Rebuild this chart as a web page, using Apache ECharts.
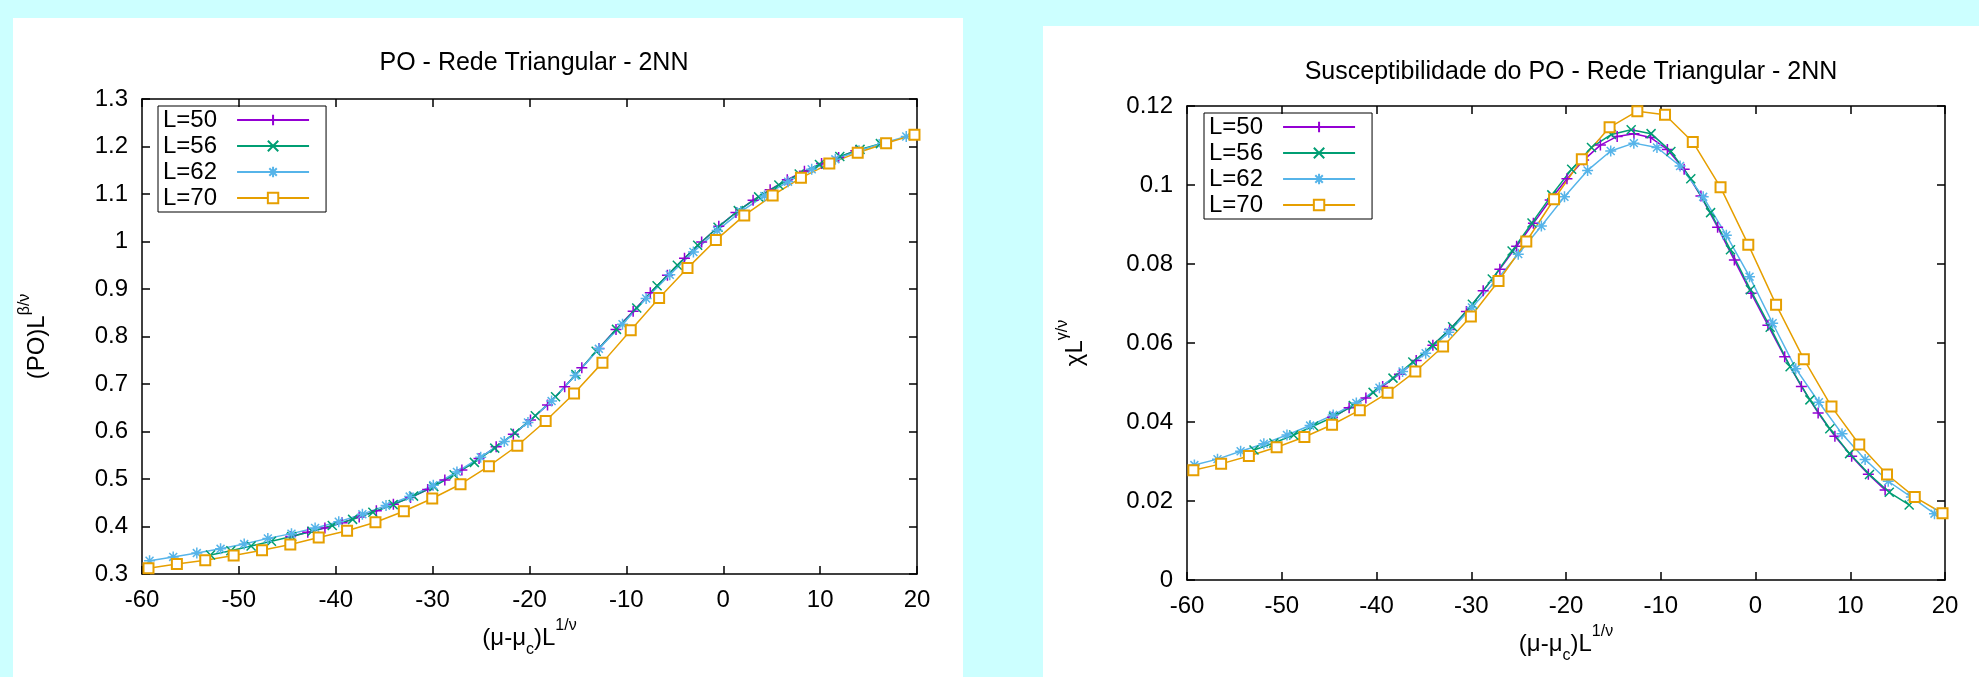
<!DOCTYPE html>
<html><head><meta charset="utf-8">
<script src="https://cdn.jsdelivr.net/npm/echarts@6/dist/echarts.min.js"></script>
<style>html,body{margin:0;padding:0;background:#ccffff}#c{width:1979px;height:677px}</style>
</head><body><div id="c"></div>
<script>
// ---- data ----
const LABELS = ['L=50', 'L=56', 'L=62', 'L=70'];
const X50 = [-44.65,-42.89,-41.12,-39.35,-37.58,-35.81,-34.05,-32.28,-30.51,-28.74,-26.98,-25.21,-23.44,-21.67,-19.90,-18.14,-16.37,-14.60,-12.83,-11.07,-9.30,-7.53,-5.76,-4.00,-2.23,-0.46,1.31,3.08,4.84,6.61,8.38,10.15,11.91,13.68];
const X56 = [-52.93,-50.83,-48.74,-46.64,-44.55,-42.45,-40.36,-38.26,-36.17,-34.07,-31.97,-29.88,-27.78,-25.69,-23.59,-21.50,-19.40,-17.31,-15.21,-13.12,-11.02,-8.93,-6.83,-4.74,-2.64,-0.54,1.55,3.65,5.74,7.84,9.93,12.03,14.12,16.22];
const X62 = [-59.22,-56.78,-54.34,-51.89,-49.45,-47.01,-44.57,-42.13,-39.69,-37.25,-34.81,-32.37,-29.93,-27.49,-25.04,-22.60,-20.16,-17.72,-15.28,-12.84,-10.40,-7.96,-5.52,-3.08,-0.63,1.81,4.25,6.69,9.13,11.57,14.01,16.45,18.89];
const X70 = [-59.33,-56.40,-53.47,-50.54,-47.61,-44.69,-41.76,-38.83,-35.90,-32.97,-30.04,-27.12,-24.19,-21.26,-18.33,-15.40,-12.47,-9.55,-6.62,-3.69,-0.76,2.17,5.10,8.02,10.95,13.88,16.81,19.74];

const PO50 = [0.379,0.388,0.397,0.408,0.420,0.433,0.447,0.461,0.478,0.498,0.519,0.543,0.568,0.594,0.624,0.656,0.694,0.734,0.775,0.815,0.853,0.892,0.929,0.965,0.999,1.032,1.061,1.087,1.109,1.130,1.148,1.164,1.177,1.191];
const PO56 = [0.340,0.349,0.359,0.369,0.379,0.390,0.402,0.415,0.430,0.446,0.464,0.484,0.509,0.535,0.565,0.597,0.633,0.673,0.720,0.769,0.815,0.860,0.907,0.950,0.992,1.030,1.065,1.094,1.119,1.142,1.162,1.179,1.194,1.206];
const PO62 = [0.328,0.336,0.344,0.353,0.363,0.375,0.385,0.397,0.410,0.426,0.444,0.463,0.487,0.515,0.546,0.579,0.619,0.664,0.718,0.774,0.826,0.880,0.930,0.978,1.023,1.063,1.096,1.126,1.152,1.173,1.191,1.207,1.221];
const PO70 = [0.312,0.321,0.329,0.339,0.350,0.362,0.377,0.391,0.409,0.432,0.459,0.489,0.527,0.570,0.622,0.680,0.745,0.813,0.881,0.944,1.003,1.055,1.097,1.134,1.164,1.187,1.207,1.225];

const CHI50 = [0.0412,0.0436,0.0461,0.0490,0.0521,0.0556,0.0594,0.0634,0.0680,0.0732,0.0787,0.0845,0.0903,0.0962,0.1016,0.1063,0.1101,0.1123,0.1130,0.1120,0.1090,0.1040,0.0972,0.0893,0.0810,0.0726,0.0645,0.0565,0.0490,0.0423,0.0364,0.0313,0.0268,0.0228];
const CHI56 = [0.0329,0.0347,0.0367,0.0390,0.0413,0.0442,0.0475,0.0511,0.0552,0.0594,0.0641,0.0698,0.0762,0.0833,0.0904,0.0975,0.1040,0.1095,0.1128,0.1140,0.1130,0.1085,0.1016,0.0930,0.0836,0.0735,0.0640,0.0540,0.0456,0.0383,0.0320,0.0267,0.0222,0.0190];
const CHI62 = [0.0291,0.0306,0.0326,0.0345,0.0367,0.0391,0.0418,0.0448,0.0487,0.0528,0.0574,0.0627,0.0690,0.0755,0.0825,0.0896,0.0970,0.1037,0.1086,0.1106,0.1095,0.1048,0.0970,0.0873,0.0768,0.0650,0.0535,0.0450,0.0370,0.0305,0.0250,0.0210,0.0168];
const CHI70 = [0.0278,0.0294,0.0314,0.0336,0.0362,0.0393,0.0430,0.0474,0.0528,0.0591,0.0667,0.0757,0.0857,0.0964,0.1065,0.1146,0.1187,0.1178,0.1109,0.0994,0.0849,0.0697,0.0559,0.0439,0.0343,0.0267,0.0210,0.0169];

const TITLE_LEFT = 'PO - Rede Triangular - 2NN';
const TITLE_RIGHT = 'Susceptibilidade do PO - Rede Triangular - 2NN';

// ---- styles ----
const FONT = '"Liberation Sans", Arial, sans-serif';
const XS = [X50, X56, X62, X70];
const POS = [PO50, PO56, PO62, PO70];
const CHIS = [CHI50, CHI56, CHI62, CHI70];
const SERIES_STYLE = [
  {color: '#9400d3', symbol: 'path://M0,-5L0,5M-5,0L5,0', size: 11},
  {color: '#009e73', symbol: 'path://M-5,-5L5,5M-5,5L5,-5', size: 9},
  {color: '#56b4e9', symbol: 'path://M0,-5L0,5M-5,0L5,0M-3.6,-3.6L3.6,3.6M-3.6,3.6L3.6,-3.6', size: 11},
  {color: '#e69f00', symbol: 'emptyRect', size: 10}
];

const axisLineStyle = {color: '#000', width: 1.5};
const labelStyle = {fontSize: 24, fontFamily: FONT, color: '#000'};
const richName = {
  a: {fontSize: 24, fontFamily: FONT, color: '#000', lineHeight: 40, verticalAlign: 'middle'},
  s: {fontSize: 16, fontFamily: FONT, color: '#000', lineHeight: 20, verticalAlign: 'bottom'},
  p: {fontSize: 16, fontFamily: FONT, color: '#000', lineHeight: 20, verticalAlign: 'top'}
};

function xAx(grid, pos, withLabel) {
  return {
    gridIndex: grid, type: 'value', min: -60, max: 20, interval: 10, position: pos,
    axisLine: {show: true, onZero: false, lineStyle: axisLineStyle},
    axisTick: {show: true, inside: true, length: 8, lineStyle: axisLineStyle},
    axisLabel: withLabel ? Object.assign({margin: 14}, labelStyle) : {show: false},
    splitLine: {show: false},
    name: withLabel ? '{a|(μ-μ}{s|c}{a|)L}{p|1/ν}' : '',
    nameLocation: 'middle', nameGap: 44,
    nameTextStyle: {rich: richName}
  };
}
function yAx(grid, pos, withLabel, min, max, interval, name, gap, dec) {
  return {
    gridIndex: grid, type: 'value', min: min, max: max, interval: interval, position: pos,
    axisLine: {show: true, onZero: false, lineStyle: axisLineStyle},
    axisTick: {show: true, inside: true, length: 8, lineStyle: axisLineStyle},
    axisLabel: withLabel ? Object.assign({margin: 14, formatter: v => String(+v.toFixed(dec))}, labelStyle) : {show: false},
    splitLine: {show: false},
    name: withLabel ? name : '',
    nameLocation: 'middle', nameGap: gap,
    nameTextStyle: {rich: richName}
  };
}

function legend(left, top) {
  return {
    data: LABELS, orient: 'vertical', left: left, top: top, align: 'right',
    itemWidth: 72, itemHeight: 13, itemGap: 0, padding: [1, 16, 1, 5],
    borderColor: '#000', borderWidth: 1, selectedMode: false,
    textStyle: {fontSize: 24, fontFamily: FONT, color: '#000', lineHeight: 26, padding: [0, 15, 0, 0]}
  };
}

const series = [];
[POS, CHIS].forEach((YS, g) => {
  LABELS.forEach((name, i) => {
    const st = SERIES_STYLE[i];
    series.push({
      type: 'line', name: name, xAxisIndex: g * 2, yAxisIndex: g * 2,
      data: XS[i].map((x, k) => [x, YS[i][k]]),
      symbol: st.symbol, symbolSize: st.size, showAllSymbol: true,
      itemStyle: {color: st.color, borderColor: st.color, borderWidth: 1.5},
      lineStyle: {color: st.color, width: 1.5},
      emphasis: {disabled: true}, animation: false, clip: true
    });
  });
});

const option = {
  backgroundColor: '#ccffff',
  animation: false,
  graphic: [
    {type: 'rect', z: -100, shape: {x: 13, y: 18, width: 950, height: 670}, style: {fill: '#fff'}},
    {type: 'rect', z: -100, shape: {x: 1043, y: 26, width: 940, height: 660}, style: {fill: '#fff'}}
  ],
  title: [
    {text: TITLE_LEFT, left: 529, top: 46, textAlign: 'center', textStyle: {fontSize: 25, fontWeight: 'normal', fontFamily: FONT, color: '#000'}},
    {text: TITLE_RIGHT, left: 1566, top: 55, textAlign: 'center', textStyle: {fontSize: 25, fontWeight: 'normal', fontFamily: FONT, color: '#000'}}
  ],
  legend: [legend(158, 106), legend(1204, 113)],
  grid: [
    {left: 142, top: 99, width: 775, height: 475, containLabel: false},
    {left: 1187, top: 106, width: 758, height: 474, containLabel: false}
  ],
  xAxis: [xAx(0, 'bottom', true), xAx(0, 'top', false), xAx(1, 'bottom', true), xAx(1, 'top', false)],
  yAxis: [
    yAx(0, 'left', true, 0.3, 1.3, 0.1, '{a|(PO)L}{p|β/ν}', 85, 2),
    yAx(0, 'right', false, 0.3, 1.3, 0.1, '', 0, 2),
    yAx(1, 'left', true, 0, 0.12, 0.02, '{a|χL}{p|γ/ν}', 92, 3),
    yAx(1, 'right', false, 0, 0.12, 0.02, '', 0, 3)
  ],
  series: series
};
const chart = echarts.init(document.getElementById('c'), null, {renderer: 'canvas'});
chart.setOption(option);
</script></body></html>
